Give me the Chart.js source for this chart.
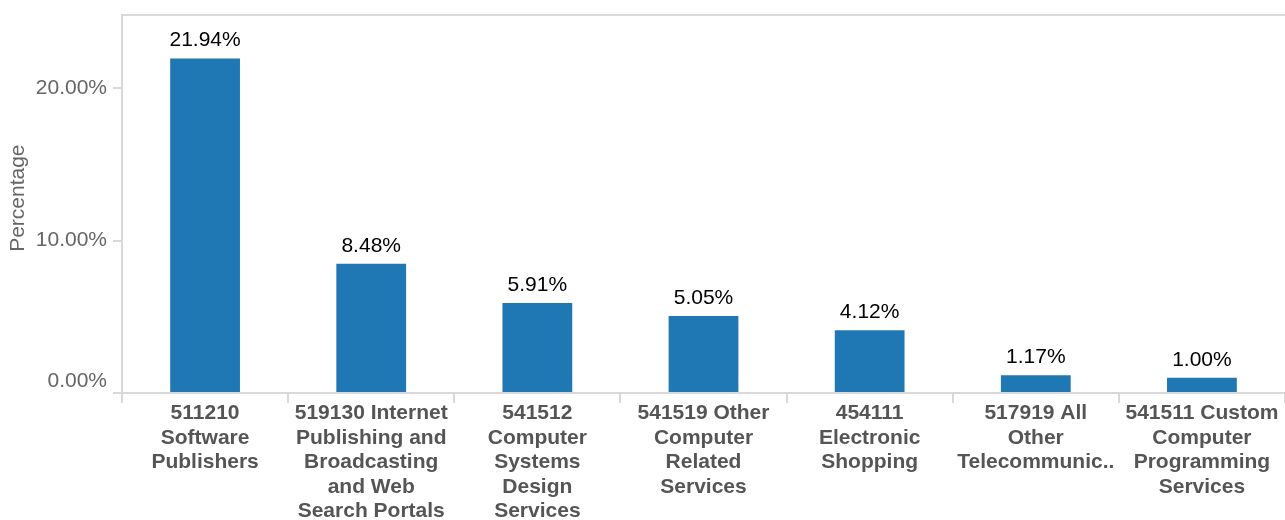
<!DOCTYPE html>
<html>
<head>
<meta charset="utf-8">
<script src="https://cdn.jsdelivr.net/npm/chart.js@4/dist/chart.umd.min.js"></script>
<style>
  html, body { margin: 0; padding: 0; background: #fff; }
  #wrap { width: 1285px; height: 520px; position: relative; }
</style>
</head>
<body>
<div id="wrap"><canvas id="c" width="1285" height="520"></canvas></div>
<script>
// ---- data ----
const categories = [
  ['511210', 'Software', 'Publishers'],
  ['519130 Internet', 'Publishing and', 'Broadcasting', 'and Web', 'Search Portals'],
  ['541512', 'Computer', 'Systems', 'Design', 'Services'],
  ['541519 Other', 'Computer', 'Related', 'Services'],
  ['454111', 'Electronic', 'Shopping'],
  ['517919 All', 'Other', 'Telecommunic..'],
  ['541511 Custom', 'Computer', 'Programming', 'Services']
];
const percentages = [21.94, 8.48, 5.91, 5.05, 4.12, 1.17, 1.00];
const yTickValues = [0, 10, 20];
const yTitle = 'Percentage';

const FONT = '"Liberation Sans", Arial, Helvetica, sans-serif';
const LINE = '#d9d9d9';

const valueLabels = {
  id: 'valueLabels',
  afterDatasetsDraw(chart) {
    const ctx = chart.ctx;
    const meta = chart.getDatasetMeta(0);
    ctx.save();
    ctx.font = '21px ' + FONT;
    ctx.fillStyle = '#000';
    ctx.textAlign = 'center';
    ctx.textBaseline = 'middle';
    meta.data.forEach((bar, i) => {
      const v = chart.data.datasets[0].data[i];
      ctx.fillText(v.toFixed(2) + '%', bar.x, bar.y - 18);
    });
    ctx.restore();
  }
};

const topBorder = {
  id: 'topBorder',
  afterDraw(chart) {
    const a = chart.chartArea;
    const ctx = chart.ctx;
    ctx.save();
    ctx.strokeStyle = LINE;
    ctx.lineWidth = 2;
    ctx.beginPath();
    ctx.moveTo(a.left - 1, a.top);
    ctx.lineTo(chart.width, a.top);
    ctx.stroke();
    ctx.restore();
  }
};

new Chart(document.getElementById('c'), {
  type: 'bar',
  data: {
    labels: categories,
    datasets: [{
      data: percentages,
      backgroundColor: '#1f77b4',
      borderWidth: 0,
      barPercentage: 0.42,
      categoryPercentage: 1
    }]
  },
  options: {
    responsive: false,
    animation: false,
    devicePixelRatio: 1,
    layout: { padding: { top: 15, right: -2, left: 0, bottom: 0 } },
    plugins: { legend: { display: false }, tooltip: { enabled: false } },
    scales: {
      x: {
        grid: { display: true, drawOnChartArea: false, offset: true, tickLength: 10, color: LINE, lineWidth: 2 },
        border: { display: true, color: LINE, width: 2 },
        ticks: {
          autoSkip: false, maxRotation: 0, minRotation: 0, padding: -2,
          color: '#555',
          font: { family: FONT, size: 21, weight: 'bold', lineHeight: 1.167 }
        },
        afterFit(scale) { scale.height = 127; scale.paddingLeft = 0; scale.paddingRight = 0; }
      },
      y: {
        min: 0,
        max: 24.8,
        afterBuildTicks(scale) { scale.ticks = yTickValues.map(v => ({ value: v })); },
        grid: { display: true, drawOnChartArea: false, tickLength: 9, color: LINE, lineWidth: 2 },
        border: { display: true, color: LINE, width: 2 },
        ticks: {
          padding: 6,
          color: '#666',
          font: { family: FONT, size: 21, lineHeight: 1.1 },
          callback(v) { const s = Number(v).toFixed(2) + '%'; return v === 0 ? [s, ''] : s; }
        },
        title: {
          display: true,
          text: '  ' + yTitle,
          color: '#666',
          font: { family: FONT, size: 21, lineHeight: 1.2 },
          padding: { top: 6, bottom: 0 }
        },
        afterFit(scale) { scale.width = 122; scale.paddingTop = 0; scale.paddingBottom = 0; }
      }
    }
  },
  plugins: [valueLabels, topBorder]
});
</script>
</body>
</html>
